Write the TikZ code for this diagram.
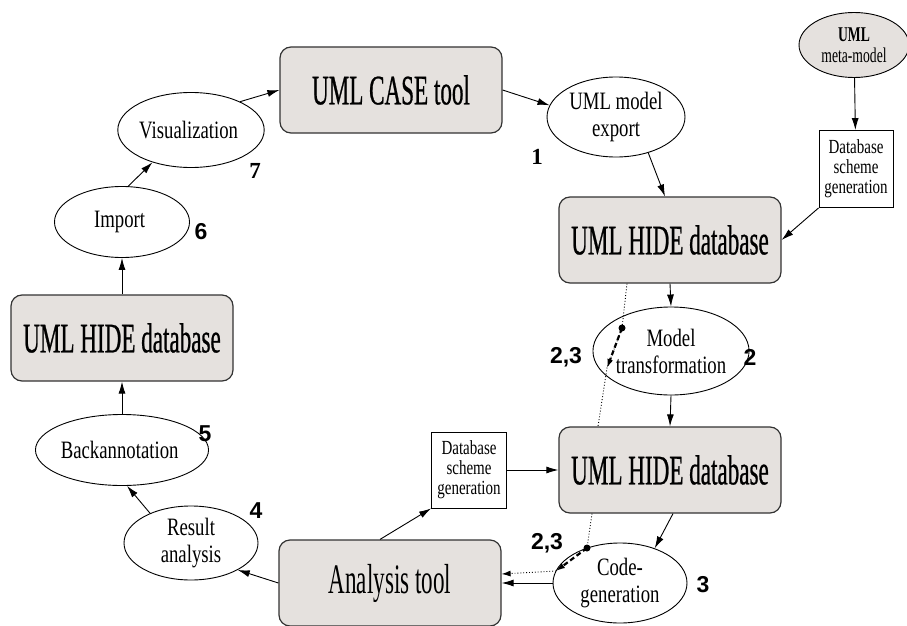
\documentclass[tikz,border=0pt]{standalone}
\usepackage{fontspec}
\setmainfont{Liberation Serif}
\newfontfamily\stepfont[FakeStretch=0.75]{Liberation Serif}
\newfontfamily\metafont[FakeStretch=0.65]{Liberation Serif}
\newfontfamily\toolfont[FakeStretch=0.55]{Liberation Serif}
\newfontfamily\hidefont[FakeStretch=0.55,FakeBold=0.6]{Liberation Serif}
\newfontfamily\numfont{Liberation Sans}
\usetikzlibrary{shapes.geometric,arrows.meta}
\definecolor{toolgray}{RGB}{229,225,222}

\begin{document}
\begin{tikzpicture}[x=1pt,y=-1pt,
  tool/.style={draw=black!80, line width=1.2pt, fill=toolgray, rounded corners=11pt,
    minimum width=222pt, minimum height=86pt, inner sep=0pt,
    font=\toolfont\fontsize{42}{42}\selectfont},
  heavy/.style={font=\hidefont\fontsize{42}{42}\selectfont},
  phase/.style={draw, ellipse, line width=0.9pt, inner sep=0pt, align=center,
    font=\stepfont\fontsize{25}{27}\selectfont},
  gen/.style={draw, line width=0.9pt, minimum width=74pt, minimum height=77pt,
    inner sep=0pt, align=center, font=\stepfont\fontsize{20}{20}\selectfont},
  num/.style={font=\numfont\bfseries\fontsize{23}{23}\selectfont},
  serifnum/.style={font=\bfseries\fontsize{23}{23}\selectfont},
  flow/.style={-{Latex[length=12pt,width=7pt]}, line width=0.9pt},
  trace/.style={dotted, line width=0.9pt},
  hop/.style={-{Latex[length=9pt,width=6pt]}, line width=2.2pt, dash pattern=on 5pt off 3pt}
]
  \useasboundingbox (0,0) rectangle (907,626);

  % tools and databases
  \node [ tool, heavy ] (casetool) at (391,90) { UML CASE tool };
  \node [ tool, heavy ] (hide1) at (670,240) { UML HIDE database };
  \node [ tool, heavy ] (hide2) at (670,470) { UML HIDE database };
  \node [ tool, heavy ] (hideleft) at (122,338) { UML HIDE database };
  \node [ tool ] (analysis) at (390,583) { Analysis tool };

  % steps
  \node [ phase, minimum width=138pt, minimum height=80pt ] (export) at (616,117) { UML model\\export };
  \node [ phase, fill=toolgray, minimum width=110pt, minimum height=65pt,
    font=\metafont\fontsize{21}{21}\selectfont ] (metamodel) at (854,45) { \textbf{UML}\\meta-model };
  \node [ gen ] (dbtop) at (856,169) { Database\\scheme\\generation };
  \node [ phase, minimum width=132pt, minimum height=88pt ] (modeltr) at (671,351) { Model\\transformation };
  \node [ gen, minimum width=75pt, minimum height=76pt ] (dbmid) at (469,470) { Database\\scheme\\generation };
  \node [ phase, minimum width=134pt, minimum height=80pt ] (codegen) at (620,583) { Code-\\generation };
  \node [ phase, minimum width=134pt, minimum height=74pt ] (result) at (191,543) { Result\\analysis };
  \node [ phase, minimum width=135pt, minimum height=71pt ] (backann) at (122,450) { Backannotation };
  \node [ phase, minimum width=135pt, minimum height=71pt ] (import) at (122,222) { Import };
  \node [ phase, minimum width=134pt, minimum height=75pt ] (visual) at (191,130) { Visualization };

  % step numbers
  \node [ serifnum ] (n1) at (537,157) { 1 };
  \node [ num ] (n2) at (750,357) { 2 };
  \node [ num ] (n3) at (703,585) { 3 };
  \node [ num ] (n4) at (256,511) { 4 };
  \node [ num ] (n5) at (205,434) { 5 };
  \node [ num ] (n6) at (201,232) { 6 };
  \node [ serifnum ] (n7) at (255,171) { 7 };
  \node [ num ] (n23a) at (566,357) { 2,3 };
  \node [ num ] (n23b) at (547,543) { 2,3 };

  % main flow
  \draw [ flow ] (visual.30) -- (casetool.west);
  \draw [ flow ] (casetool.east) -- (export.170);
  \draw [ flow ] (export.-48) -- ([xshift=-5pt]hide1.north);
  \draw [ flow ] (metamodel) -- (dbtop);
  \draw [ flow ] (dbtop.south west) -- (hide1.east);
  \draw [ flow ] (hide1.south) -- (modeltr.north);
  \draw [ flow ] (modeltr.south) -- (hide2.north);
  \draw [ flow ] (dbmid.east) -- (hide2.west);
  \draw [ flow ] ([xshift=-10pt]analysis.north) -- (dbmid.south west);
  \draw [ flow ] ([xshift=3pt]hide2.south) -- (codegen.45);
  \draw [ flow ] (codegen.west) -- (codegen.west -| analysis.east);
  \draw [ flow ] (analysis.west) -- (result.-30);
  \draw [ flow ] (result.144) -- (backann.-82);
  \draw [ flow ] (backann.north) -- (hideleft.south);
  \draw [ flow ] (hideleft.north) -- (import.south);
  \draw [ flow ] (import.80) -- (visual.-140);

  % traceability path
  \coordinate (d1) at (622,328);
  \coordinate (e1) at (607,368);
  \coordinate (d2) at (587,548);
  \coordinate (e2) at (556,571);
  \draw [ trace ] ([xshift=-43pt]hide1.south) -- (d1) -- (e1) -- ([xshift=-72pt]hide2.north);
  \draw [ trace ] ([xshift=-78pt]hide2.south) -- (d2);
  \draw [ trace, -{Latex[length=9pt,width=6pt]} ] (e2) -- ([yshift=9pt]analysis.east);
  \fill (d1) circle (3.5pt);
  \fill (d2) circle (3.5pt);
  \draw [ hop ] (d1) -- (e1);
  \draw [ hop ] (d2) -- (e2);
\end{tikzpicture}
\end{document}
